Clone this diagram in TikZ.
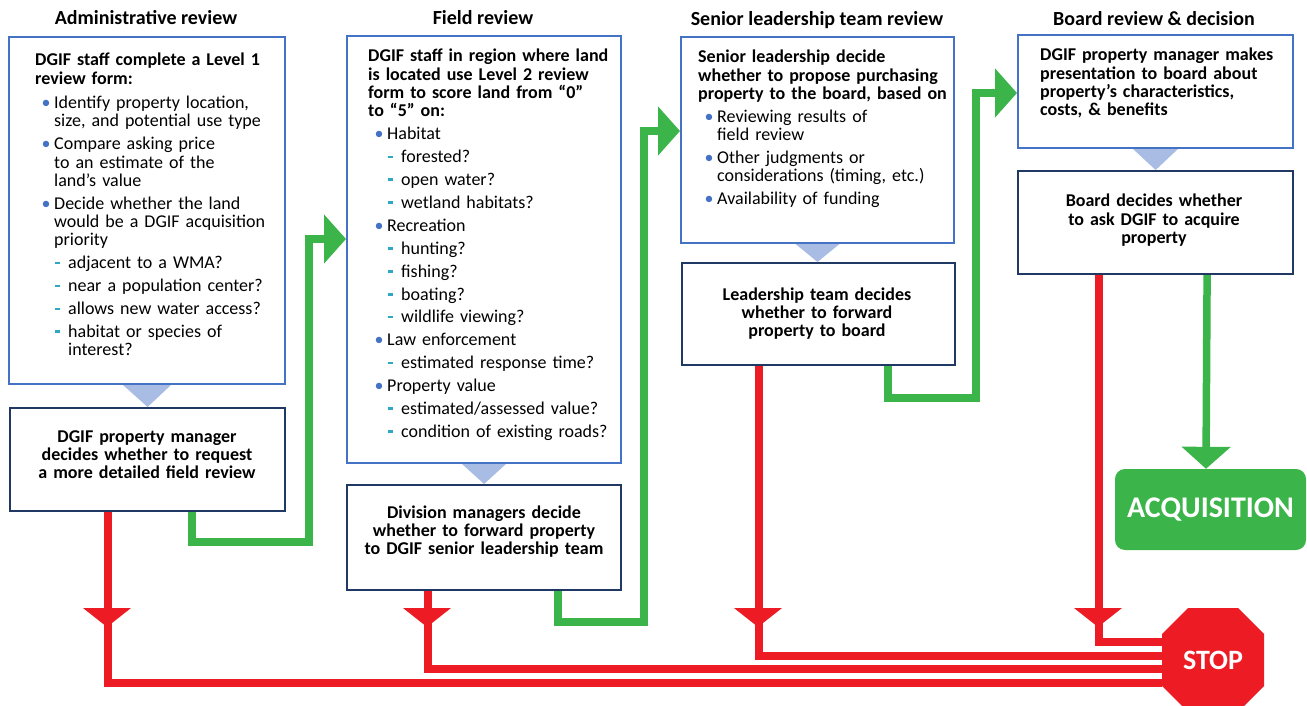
\documentclass[tikz,border=0pt]{standalone}
\usepackage{fontspec}
\setmainfont{Carlito}
\usetikzlibrary{arrows.meta}
\definecolor{ublue}{HTML}{4472C4}
\definecolor{navy}{HTML}{203864}
\definecolor{trib}{HTML}{A9BDE4}
\definecolor{ggreen}{HTML}{3BB54A}
\definecolor{rred}{HTML}{ED1C24}
\definecolor{dteal}{HTML}{2FA8C6}
\pgfdeclarelayer{bg}
\pgfsetlayers{bg,main}
\newcommand\bitem{\par\leftskip=19pt\noindent\llap{\textcolor{ublue}{•}\hspace{3.5pt}}}
\newcommand\ditem{\par\leftskip=33pt\noindent\llap{\textcolor{dteal}{\rule[4.5pt]{5pt}{2.6pt}}\hspace{8pt}}}
\newcommand\lst{\setlength{\parskip}{4.6pt}\setlength{\parindent}{0pt}}
\begin{document}
\begin{tikzpicture}[x=1pt,y=-1pt,
  ubox/.style={draw=ublue,line width=2pt,fill=white,rectangle,anchor=north west,inner sep=0pt},
  lbox/.style={draw=navy,line width=2.2pt,fill=white,rectangle,anchor=north west,inner sep=0pt},
  head/.style={font=\fontsize{20}{24}\selectfont\bfseries,anchor=base,inner sep=0pt},
  body/.style={font=\fontsize{18}{18.3}\selectfont,anchor=base west,inner sep=0pt,text width=#1,align=left},
  ctext/.style={font=\fontsize{18}{18.3}\selectfont\bfseries,anchor=base,inner sep=0pt,text width=#1,align=center},
  tri/.style={fill=trib},
  gline/.style={draw=ggreen,line width=7.5pt},
  rline/.style={draw=rred,line width=8pt},
  garrow/.style={-{Triangle[length=22pt,width=48pt]}},
  rhead/.style={fill=rred},
]
\useasboundingbox (0,0) rectangle (1307,706);

% headings
\node[head] (h1) at (146,25) {Administrative review};
\node[head] (h2) at (483,25) {Field review};
\node[head] (h3) at (817,26) {Senior leadership team review};
\node[head] (h4) at (1154,26) {Board review \& decision};

% boxes
\node[ubox,minimum width=276pt,minimum height=347pt] (a1) at (8,36) {};
\node[lbox,minimum width=275pt,minimum height=103pt] (a2) at (9,407) {};
\node[ubox,minimum width=274pt,minimum height=427pt] (f1) at (346,35) {};
\node[lbox,minimum width=274pt,minimum height=105pt] (f2) at (346,484) {};
\node[ubox,minimum width=273pt,minimum height=206pt] (s1) at (680,36) {};
\node[lbox,minimum width=273pt,minimum height=102pt] (s2) at (681,262) {};
\node[ubox,minimum width=275pt,minimum height=113pt] (b1) at (1017,34) {};
\node[lbox,minimum width=275pt,minimum height=103pt] (b2) at (1017,170) {};

% texts
\node[body=260pt] (ta1) at (35,66) {\lst{\bfseries DGIF staff complete a Level 1\newline review form:}\par\vspace{1.5pt}
\bitem Identify property location,\newline size, and potential use type
\bitem Compare asking price\newline to an estimate of the\newline land’s value
\bitem Decide whether the land\newline would be a DGIF acquisition\newline priority
\ditem adjacent to a WMA?
\ditem near a population center?
\ditem allows new water access?
\ditem habitat or species of\newline interest?\par};

\node[body=260pt] (tf1) at (368,62) {\lst{\bfseries DGIF staff in region where land\newline is located use Level 2 review\newline form to score land from “0”\newline to “5” on:}
\bitem Habitat
\ditem forested?
\ditem open water?
\ditem wetland habitats?
\bitem Recreation
\ditem hunting?
\ditem fishing?
\ditem boating?
\ditem wildlife viewing?
\bitem Law enforcement
\ditem estimated response time?
\bitem Property value
\ditem estimated/assessed value?
\ditem condition of existing roads?\par};

\node[body=262pt] (ts1) at (698,63) {\lst{\bfseries Senior leadership decide\newline whether to propose purchasing\newline property to the board, based on}
\bitem Reviewing results of\newline field review
\bitem Other judgments or\newline considerations (timing, etc.)
\bitem Availability of funding\par};

\node[body=262pt] (tb1) at (1040,61) {\bfseries DGIF property manager makes\newline presentation to board about\newline property’s characteristics,\newline costs, \& benefits};

\node[ctext=270pt] (ta2) at (147,442) {DGIF property manager\\ decides whether to request\\ a more detailed field review};
\node[ctext=270pt] (tf2) at (484,518) {Division managers decide\\ whether to forward property\\ to DGIF senior leadership team};
\node[ctext=270pt] (ts2) at (817,300) {Leadership team decides\\ whether to forward\\ property to board};
\node[ctext=270pt] (tb2) at (1154,207) {Board decides whether\\ to ask DGIF to acquire\\ property};

% acquisition
\node[fill=ggreen,rounded corners=10pt,minimum width=191pt,minimum height=81pt,inner sep=0pt,text=white,font=\fontsize{30}{30}\selectfont\bfseries] (acq) at (1210.5,509.5) {ACQUISITION};

% stop sign
\fill[rred] (1188,608) -- (1238,608) -- (1264,634) -- (1264,686) -- (1238,712) -- (1188,712) -- (1162,686) -- (1162,634) -- cycle;
\node[minimum width=102pt,minimum height=104pt,inner sep=0pt,text=white,font=\fontsize{28}{28}\selectfont\bfseries] (stop) at (1213,660) {STOP};

\coordinate (ya) at (0,683);
\coordinate (yf) at (0,669);
\coordinate (ys) at (0,656);
\coordinate (yb) at (0,642);

\begin{pgfonlayer}{bg}
% connector triangles
\fill[tri] ([xshift=-24pt]a1.south) -- ([xshift=24pt]a1.south) -- (a2.north) -- cycle;
\fill[tri] ([xshift=-22pt]f1.south) -- ([xshift=22pt]f1.south) -- (f2.north) -- cycle;
\fill[tri] ([xshift=-22pt]s1.south) -- ([xshift=22pt]s1.south) -- (s1.south |- s2.north) -- cycle;
\fill[tri] ([xshift=-22.5pt]b1.south) -- ([xshift=22.5pt]b1.south) -- (b2.north) -- cycle;

% green connectors
\draw[gline,garrow] ([xshift=44.5pt]a2.south) -- ++(0,30) -- ++(117,0) |- ([yshift=10.5pt]f1.west);
\draw[gline,garrow] ([xshift=74pt]f2.south) -- ++(0,31) -- ++(86,0) |- ([yshift=9pt]s1.west);
\draw[gline,garrow] ([xshift=69.5pt]s2.south) -- ++(0,32) -- ++(88,0) |- ([yshift=-1.5pt]b1.west);
\draw[gline,garrow] ([xshift=51.5pt]b2.south) -- ([xshift=-4.5pt]acq.north);

% red connectors
\draw[rline] ([xshift=-39.5pt]a2.south) |- (stop.west |- ya);
\draw[rline] ([xshift=-56pt]f2.south) |- (stop.west |- yf);
\draw[rline] ([xshift=-59.5pt]s2.south) |- (stop.west |- ys);
\draw[rline] ([xshift=-56.5pt]b2.south) |- (stop.west |- yb);
\fill[rhead] (83,608) -- (131,608) -- (107,627) -- cycle;
\fill[rhead] (403,608) -- (451,608) -- (427,627) -- cycle;
\fill[rhead] (734,608) -- (782,608) -- (758,627) -- cycle;
\fill[rhead] (1074,608) -- (1122,608) -- (1098,627) -- cycle;
\end{pgfonlayer}
\end{tikzpicture}
\end{document}
